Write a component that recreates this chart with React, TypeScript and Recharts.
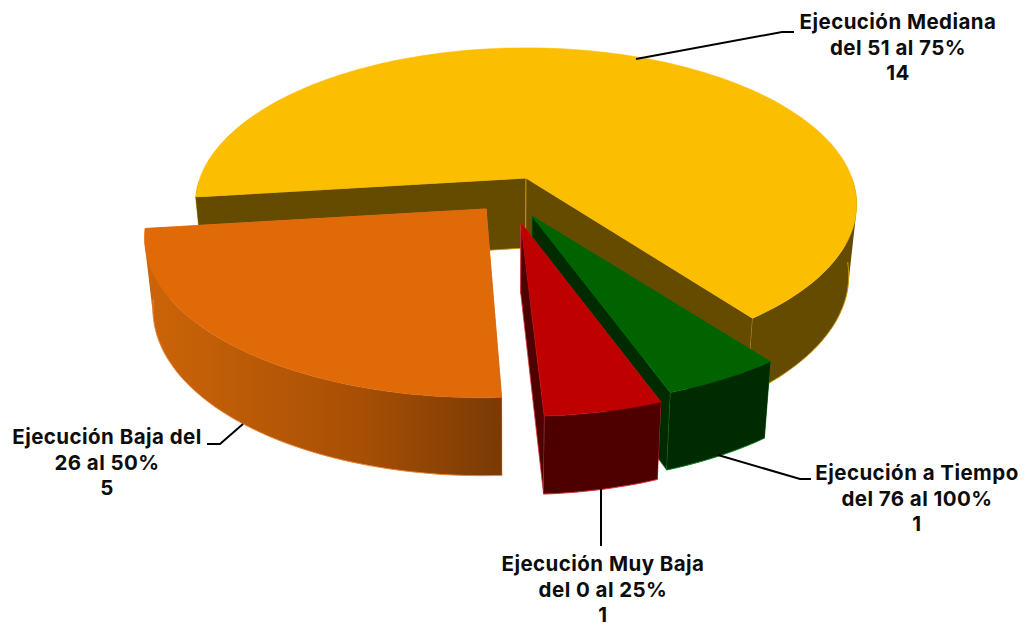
import React from 'react';
import { PieChart, Pie } from 'recharts';

const WIDTH = 1024;
const HEIGHT = 623;

// clockwise order, starting from the yellow slice
const categories = ['Ejecución Mediana', 'Ejecución a Tiempo', 'Ejecución Muy Baja', 'Ejecución Baja'];
const values = [14, 1, 1, 5];
const labelLines = [
  ['Ejecución Mediana', 'del 51 al 75%'],
  ['Ejecución a Tiempo', 'del 76 al 100%'],
  ['Ejecución Muy Baja', 'del 0 al 25%'],
  ['Ejecución Baja del', '26 al 50%'],
];

const chartData = categories.map((name, i) => ({ name, value: values[i] }));

// look of each slice: exploded apex, ellipse radii, small view corrections and colours
const SLICE_LOOK = [
  { ax: 526, ay: 178, rx: 326, ry: 152, rot: 0, shear: 0, top: '#FBBE00', wall: '#654B00', edge: '#C99A00' },
  { ax: 532, ay: 216, rx: 343, ry: 158, rot: 0, shear: 0, top: '#006300', wall: '#002A00', edge: '#0A7A1E' },
  { ax: 521, ay: 223, rx: 337, ry: 161, rot: -0.6, shear: 0, top: '#BE0000', wall: '#4E0000', edge: '#D8343A' },
  { ax: 486, ay: 209, rx: 336, ry: 157, rot: 0, shear: -3.5, top: '#E06A07', wall: 'url(#orangeWall)', edge: '#E8853A' },
];

// where each label and its leader line go
const LABEL_LOOK = [
  { x: 898, y: 29, leader: '636,59 782,32 794,32' },
  { x: 917, y: 480, leader: '718,455 800,479 811,479' },
  { x: 603, y: 571, leader: '601,489 601,546' },
  { x: 107, y: 444, leader: '243,424 220,444 207,444' },
];

const LINE_GAP = 25.7;
const PERSPECTIVE = 0.168;
const VANISH_X = 510;
const SHRINK = 0.023;

type Pt = { x: number; y: number };
type Pv = Pt & { v: number };

function topPoint(look: (typeof SLICE_LOOK)[number], deg: number): Pv {
  const t = ((deg + look.rot) * Math.PI) / 180;
  const u = Math.sin(t);
  const v = -Math.cos(t);
  const w = 1 - PERSPECTIVE * v;
  return { x: look.ax + (look.rx * u) / w + look.shear * v, y: look.ay + (look.ry * v) / w, v };
}

function dropPoint(p: Pv): Pv {
  return { x: p.x - (p.x - VANISH_X) * SHRINK, y: p.y + 70 + 8 * p.v, v: p.v };
}

const toLine = (pts: Pt[]) => pts.map((p, i) => `${i ? 'L' : 'M'}${p.x.toFixed(1)} ${p.y.toFixed(1)}`).join(' ');
const toPath = (pts: Pt[]) => toLine(pts) + ' Z';

// same winding for every quad so the nonzero fill gives a plain union
function clockwise(pts: Pt[]) {
  let area = 0;
  pts.forEach((p, i) => {
    const q = pts[(i + 1) % pts.length];
    area += p.x * q.y - q.x * p.y;
  });
  return area < 0 ? [...pts].reverse() : pts;
}

function Slice3D(props: any) {
  const look = SLICE_LOOK[props.index ?? chartData.findIndex((d) => d.name === props.name)];
  // recharts angles -> clockwise degrees from 12 o'clock
  const from = 90 - props.startAngle;
  const to = 90 - props.endAngle;
  const steps = Math.max(4, Math.ceil((to - from) / 1.5));
  const arc: Pv[] = [];
  for (let i = 0; i <= steps; i++) arc.push(topPoint(look, from + ((to - from) * i) / steps));
  const apex: Pv = { x: look.ax, y: look.ay, v: 0 };
  const first = arc[0];
  const last = arc[arc.length - 1];
  const wallStyle = { fill: look.wall, stroke: look.edge, strokeWidth: 0.8, strokeLinejoin: 'round' as const };

  // outer wall as one path of small quads, only the part that faces the viewer
  const quads: string[] = [];
  for (let i = 0; i < steps; i++) {
    const a = arc[i];
    const b = arc[i + 1];
    if (a.v < 0 || b.v < 0) continue;
    quads.push(toPath(clockwise([a, b, dropPoint(b), dropPoint(a)])));
  }
  const rim = arc.filter((p) => p.v >= 0).map(dropPoint);

  return (
    <g>
      <defs>
        <linearGradient id="orangeWall" gradientUnits="userSpaceOnUse" x1="150" y1="0" x2="501" y2="0">
          <stop offset="0%" stopColor="#CB6408" />
          <stop offset="60%" stopColor="#A84F05" />
          <stop offset="100%" stopColor="#793A04" />
        </linearGradient>
      </defs>
      <path d={toPath([apex, first, dropPoint(first), dropPoint(apex)])} {...wallStyle} />
      <path d={toPath([apex, last, dropPoint(last), dropPoint(apex)])} {...wallStyle} />
      <path d={quads.join(' ')} fill={look.wall} fillRule="nonzero" />
      <path d={toLine(props.index === 0 ? rim.slice(8) : rim)} fill="none" stroke={look.edge} strokeWidth={1} />
      <path d={toPath([apex, ...arc])} fill={look.top} stroke={look.top} strokeWidth={0.6} strokeLinejoin="round" />
    </g>
  );
}

function SliceLabel(props: any) {
  const i = props.index;
  const look = LABEL_LOOK[i];
  const lines = [...labelLines[i], String(values[i])];
  return (
    <text
      textAnchor="middle"
      fontFamily="Inter, 'Open Sans', sans-serif"
      fontWeight={700}
      fontSize={20.5}
      letterSpacing={0.45}
      fill="#0D0D0D"
    >
      {lines.map((line, k) => (
        <tspan key={k} x={look.x} y={look.y + k * LINE_GAP}>
          {line}
        </tspan>
      ))}
    </text>
  );
}

function LeaderLine(props: any) {
  const look = LABEL_LOOK[props.index];
  return <polyline points={look.leader} fill="none" stroke="#000" strokeWidth={2} />;
}

export default function App() {
  return (
    <div style={{ position: 'absolute', left: 0, top: 0, width: WIDTH, height: HEIGHT, overflow: 'hidden', background: '#fff' }}>
      <PieChart width={WIDTH} height={HEIGHT} margin={{ top: 0, right: 0, bottom: 0, left: 0 }}>
        <Pie
          data={chartData}
          dataKey="value"
          nameKey="name"
          cx={526}
          cy={178}
          outerRadius={330}
          startAngle={-173}
          endAngle={-533}
          stroke="none"
          shape={Slice3D}
          label={SliceLabel}
          labelLine={LeaderLine}
          isAnimationActive={false}
        />
      </PieChart>
    </div>
  );
}
